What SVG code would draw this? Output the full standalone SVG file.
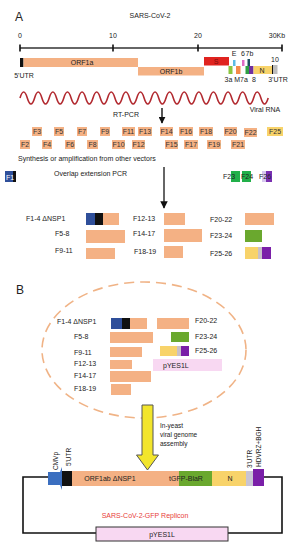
<svg xmlns="http://www.w3.org/2000/svg" width="300" height="550" viewBox="0 0 300 550">
<defs>
<style>
text{font-family:"Liberation Sans",Arial,sans-serif;fill:#222}
.big{font-size:12px}
.s7{font-size:7px}
.s6{font-size:6.5px}
.c{text-anchor:middle}
.or{fill:#f4b184}
.fl{font-size:7px;text-anchor:middle;fill:#333}
.blk{stroke:#111;stroke-width:1.6;fill:none}
</style>
<marker id="ah" viewBox="0 0 10 10" refX="9" refY="5" markerWidth="5" markerHeight="5" orient="auto"><path d="M0,0L10,5L0,10z" fill="#111"/></marker>
</defs>
<rect width="300" height="550" fill="#fff"/>

<!-- Panel A -->
<text class="big" x="15" y="21">A</text>
<text class="s7 c" x="150" y="18">SARS-CoV-2</text>

<g id="scale">
<line x1="20" y1="48" x2="282" y2="48" stroke="#333" stroke-width="1.4"/>
<path d="M20,44.5V51.5M113,44.5V51.5M198,44.5V51.5M282,44.5V51.5" stroke="#111" stroke-width="1.6"/>
<text class="s7 c" x="20" y="38">0</text>
<text class="s7 c" x="113" y="38">10</text>
<text class="s7 c" x="198" y="38">20</text>
<text class="s7 c" x="277" y="38">30Kb</text>
</g>

<g id="genome">
<rect x="20" y="58" width="3.5" height="9" fill="#111"/>
<rect class="or" x="23.5" y="58" width="114.5" height="9"/>
<text class="s7 c" x="82" y="65">ORF1a</text>
<rect class="or" x="138" y="67" width="66" height="8.5"/>
<text class="s7 c" x="171" y="74">ORF1b</text>
<rect x="204" y="57" width="25" height="8.5" fill="#e0231f"/>
<text class="s7 c" x="216" y="64" style="fill:#7a1010">S</text>
<rect x="233" y="60" width="2.5" height="6" fill="#5bbce6"/>
<rect x="242" y="60" width="2.5" height="6" fill="#e06ac4"/>
<rect x="247.5" y="59" width="2.5" height="7" fill="#1f4e5f"/>
<rect x="228.5" y="66" width="4" height="8" fill="#8cc63f"/>
<rect x="236" y="66" width="4.5" height="8" fill="#f58a4a"/>
<rect x="245.5" y="66" width="3.5" height="8" fill="#2ea043"/>
<rect x="249" y="66" width="4.5" height="8" fill="#7030a0"/>
<rect x="253.5" y="66" width="18.5" height="8" fill="#f8d36a"/>
<text class="s7 c" x="262" y="72.5">N</text>
<rect x="272" y="65" width="1.3" height="9" fill="#111"/>
<rect x="273.3" y="65" width="4.2" height="9" fill="#bdbdbd"/>
<text class="s7 c" x="234" y="56">E</text>
<text class="s7 c" x="243" y="56">6</text>
<text class="s7 c" x="249.5" y="56">7b</text>
<text class="s7 c" x="275" y="62">10</text>
<text class="s7 c" x="228.5" y="82">3a</text>
<text class="s7 c" x="241" y="82">M7a</text>
<text class="s7 c" x="254" y="82">8</text>
<text class="s7 c" x="278" y="82">3'UTR</text>
<text class="s7 c" x="24" y="78">5'UTR</text>
</g>

<g id="viral-rna">
<path d="M20,98 q3.65,-12 7.3,0 t7.3,0 t7.3,0 t7.3,0 t7.3,0 t7.3,0 t7.3,0 t7.3,0 t7.3,0 t7.3,0 t7.3,0 t7.3,0 t7.3,0 t7.3,0 t7.3,0 t7.3,0 t7.3,0 t7.3,0 t7.3,0 t7.3,0 t7.3,0 t7.3,0 t7.3,0 t7.3,0 t7.3,0 t7.3,0 t7.3,0 t7.3,0 t7.3,0 t7.3,0 t7.3,0 t7.3,0 t7.3,0 t7.3,0" fill="none" stroke="#b22a30" stroke-width="1.6"/>
<text class="s7 c" x="265" y="112">Viral RNA</text>
</g>
<text class="s7 c" x="126" y="117">RT-PCR</text>

<g id="connectors">
<line x1="162" y1="108" x2="162" y2="123" stroke="#111" stroke-width="1.4" marker-end="url(#ah)"/>
<line x1="164" y1="167" x2="164" y2="208" stroke="#333" stroke-width="1.5" marker-end="url(#ah)"/>
</g>

<g id="fragments">
<rect class="or" x="32" y="127" width="10" height="9"/><text class="fl" x="37" y="134">F3</text>
<rect class="or" x="54" y="127" width="10" height="9"/><text class="fl" x="59" y="134">F5</text>
<rect class="or" x="77" y="127" width="10" height="9"/><text class="fl" x="82" y="134">F7</text>
<rect class="or" x="100" y="127" width="10" height="9"/><text class="fl" x="105" y="134">F9</text>
<rect class="or" x="122" y="127" width="13" height="9"/><text class="fl" x="128.5" y="134">F11</text>
<rect class="or" x="138" y="127" width="14" height="9"/><text class="fl" x="145" y="134">F13</text>
<rect class="or" x="160" y="127" width="13" height="9"/><text class="fl" x="166.5" y="134">F14</text>
<rect class="or" x="179" y="127" width="14" height="9"/><text class="fl" x="186" y="134">F16</text>
<rect class="or" x="199" y="127" width="14" height="9"/><text class="fl" x="206" y="134">F18</text>
<rect class="or" x="224" y="127" width="13" height="9"/><text class="fl" x="230.5" y="134">F20</text>
<rect class="or" x="244" y="128" width="13" height="9"/><text class="fl" x="250.5" y="135">F22</text>
<rect x="267" y="127" width="16" height="9" fill="#f8d36a"/><text class="fl" x="275" y="134">F25</text>
<rect class="or" x="20" y="140" width="10" height="9"/><text class="fl" x="25" y="147">F2</text>
<rect class="or" x="42" y="140" width="10" height="9"/><text class="fl" x="47" y="147">F4</text>
<rect class="or" x="65" y="140" width="10" height="9"/><text class="fl" x="70" y="147">F6</text>
<rect class="or" x="87" y="140" width="11" height="9"/><text class="fl" x="92.5" y="147">F8</text>
<rect class="or" x="112" y="140" width="13" height="9"/><text class="fl" x="118.5" y="147">F10</text>
<rect class="or" x="132" y="140" width="13" height="9"/><text class="fl" x="138.5" y="147">F12</text>
<rect class="or" x="165" y="140" width="13" height="9"/><text class="fl" x="171.5" y="147">F15</text>
<rect class="or" x="184" y="140" width="14" height="9"/><text class="fl" x="191" y="147">F17</text>
<rect class="or" x="207" y="140" width="14" height="9"/><text class="fl" x="214" y="147">F19</text>
<rect class="or" x="231" y="140" width="14" height="9"/><text class="fl" x="238" y="147">F21</text>
</g>
<text class="s7" x="18" y="161">Synthesis or amplification from other vectors</text>

<g id="overlap">
<rect x="5" y="171" width="8" height="11" fill="#2f4f9a"/>
<rect x="13" y="171" width="3" height="11" fill="#111"/>
<text class="s7" x="6" y="179.5" style="fill:#fff">F1</text>
<text class="s7" x="54" y="176">Overlap extension PCR</text>
<rect x="231" y="171" width="9" height="11" fill="#22b04a"/>
<rect x="242" y="171" width="9" height="11" fill="#22b04a"/>
<text class="s7" x="223" y="179">F23</text>
<text class="s7" x="241" y="179">F24</text>
<rect x="262" y="171" width="4" height="11" fill="#d6c8ee"/>
<rect x="266" y="171" width="6" height="11" fill="#7a2fb0"/>
<text class="s7" x="259" y="179">F26</text>
</g>

<g id="assembled-A">
<text class="s7" x="26" y="221">F1-4 ΔNSP1</text>
<rect x="86" y="213" width="9" height="12" fill="#2f4f9a"/><rect x="95" y="213" width="8" height="12" fill="#111"/><rect class="or" x="103" y="213" width="16" height="12"/>
<text class="s7" x="55" y="236">F5-8</text>
<rect class="or" x="86" y="230" width="39" height="13"/>
<text class="s7" x="55" y="253">F9-11</text>
<rect class="or" x="86" y="248" width="29" height="11"/>
<text class="s7" x="133" y="221">F12-13</text>
<rect class="or" x="164" y="213" width="21" height="12"/>
<text class="s7" x="133" y="236">F14-17</text>
<rect class="or" x="164" y="229" width="38" height="13"/>
<text class="s7" x="134" y="254">F18-19</text>
<rect class="or" x="164" y="246" width="19" height="12"/>
<text class="s7" x="210" y="222">F20-22</text>
<rect class="or" x="245" y="213" width="29" height="12"/>
<text class="s7" x="210" y="238">F23-24</text>
<rect x="245" y="230" width="17" height="12" fill="#6aa82e"/>
<text class="s7" x="210" y="256">F25-26</text>
<rect x="245" y="247" width="13" height="12" fill="#f8d36a"/><rect x="258" y="247" width="4" height="12" fill="#c8c0c8"/><rect x="262" y="247" width="9" height="12" fill="#7a1fa8"/>
</g>

<!-- Panel B -->
<text class="big" x="16" y="294">B</text>
<g id="yeast-cell">
<ellipse cx="144" cy="350" rx="102" ry="68" fill="none" stroke="#f0b386" stroke-width="1.6" stroke-dasharray="10,6"/>
<text class="s7" x="57" y="324">F1-4 ΔNSP1</text>
<rect x="111" y="318" width="11" height="11" fill="#2f4f9a"/><rect x="122" y="318" width="8" height="11" fill="#111"/><rect class="or" x="130" y="318" width="17" height="11"/>
<text class="s7" x="74" y="339">F5-8</text>
<rect class="or" x="110" y="332" width="43" height="11"/>
<text class="s7" x="74" y="355">F9-11</text>
<rect class="or" x="110" y="347" width="32" height="10"/>
<text class="s7" x="74" y="366">F12-13</text>
<rect class="or" x="110" y="360" width="22" height="9"/>
<text class="s7" x="74" y="378">F14-17</text>
<rect class="or" x="110" y="371" width="41" height="11"/>
<text class="s7" x="74" y="391">F18-19</text>
<rect class="or" x="111" y="384" width="20" height="11"/>
<rect class="or" x="157" y="318" width="32" height="11"/>
<text class="s7" x="195" y="323">F20-22</text>
<rect x="171" y="332" width="18" height="10" fill="#6aa82e"/>
<text class="s7" x="195" y="339">F23-24</text>
<rect x="160" y="346" width="17" height="10" fill="#f8d36a"/><rect x="177" y="346" width="4" height="10" fill="#c8c0c8"/><rect x="181" y="346" width="8" height="10" fill="#7a1fa8"/>
<text class="s7" x="195" y="353">F25-26</text>
<rect x="153" y="359" width="69" height="12" fill="#f8d8f2"/>
<text class="s7" x="163" y="368">pYES1L</text>
</g>

<g id="assembly-arrow">
<path d="M142,405H153V455H158.5L147.5,470L136.5,455H142Z" fill="#f2e52c" stroke="#555" stroke-width="1"/>
<text class="s6" x="160" y="428">In-yeast</text>
<text class="s6" x="160" y="437">viral genome</text>
<text class="s6" x="160" y="446">assembly</text>
</g>

<g id="replicon">
<path class="blk" d="M48,477H23V533H96M228,533H282V477H264"/>
<path d="M48,472H60L62,467V490L60,485H48Z" fill="#3b6fc0"/>
<rect x="62" y="471" width="10" height="15" fill="#111"/>
<rect class="or" x="72" y="471" width="107" height="15"/>
<text class="s7 c" x="110" y="481">ORF1ab ΔNSP1</text>
<rect x="179" y="471" width="33" height="15" fill="#6aa82e"/>
<text class="s7 c" x="186" y="481">tGFP-BlaR</text>
<rect x="212" y="471" width="34" height="15" fill="#f8d36a"/>
<text class="s7 c" x="230" y="481">N</text>
<rect x="246" y="471" width="7" height="15" fill="#c8c4d4"/>
<rect x="253" y="469" width="11" height="17" fill="#7a1fa8"/>
<text class="s6" transform="translate(58,470) rotate(-90)">CMVp</text>
<text class="s6" transform="translate(71,466) rotate(-90)">5'UTR</text>
<text class="s6" transform="translate(252,468) rotate(-90)">3'UTR</text>
<text class="s6" transform="translate(261,467) rotate(-90)">HDVRZ+BGH</text>
<text class="s7 c" x="145" y="518" style="fill:#e8403a">SARS-CoV-2-GFP Replicon</text>
<rect x="96" y="527" width="132" height="14" fill="#f8d8f2" stroke="#333" stroke-width="1"/>
<text class="s7 c" x="162" y="536.5">pYES1L</text>
</g>
</svg>
